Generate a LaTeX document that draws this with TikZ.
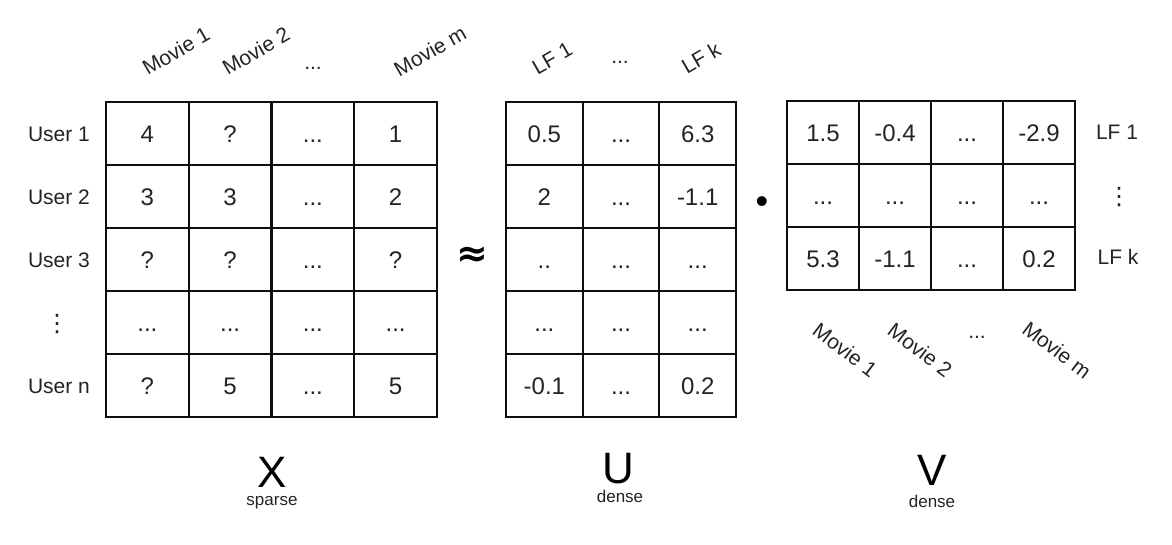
\documentclass[tikz,border=0pt]{standalone}
\usepackage{fontspec}
\setmainfont{Liberation Sans}
\newfontfamily\dvfont{DejaVu Sans}
\usetikzlibrary{positioning}
\definecolor{gridblk}{RGB}{15,15,15}
\definecolor{txtblk}{RGB}{35,35,35}
\newcommand{\dd}{...}
\newcommand{\twod}{..}

\begin{document}
\begin{tikzpicture}[x=1pt,y=-1pt,
  cell/.style={draw=gridblk, line width=2.2pt, inner sep=0pt, outer sep=0pt,
    text=txtblk, font=\fontsize{24}{24}\selectfont, text height=17.2pt, text depth=0pt},
  lbl/.style={text=txtblk, inner sep=0pt, font=\fontsize{21}{21}\selectfont,
    text height=15pt, text depth=0pt},
  vdot/.style={text=txtblk, inner sep=0pt, font=\dvfont\fontsize{24}{24}\selectfont},
  big/.style={text=black, inner sep=0pt, anchor=base, font=\fontsize{44}{44}\selectfont},
  sub/.style={text=txtblk, inner sep=0pt, anchor=base, font=\fontsize{17}{17}\selectfont}]
\useasboundingbox (0,0) rectangle (1172,544);
% -- X: users x movies --
\foreach \r/\row in {1/{4,?,\dd,1}, 2/{3,3,\dd,2}, 3/{?,?,\dd,?},
  4/{\dd,\dd,\dd,\dd}, 5/{?,5,\dd,5}} {
  \foreach \v [count=\c] in \row {
    \node[cell, minimum width=82.75, minimum height=63] (x\r\c)
      at ({106+82.75*(\c-0.5)},{102+63*(\r-0.5)}) {\v};
  }
}
% Row labels
\foreach \r/\nm in {1/User 1, 2/User 2, 3/User 3, 5/User n} {
  \node[lbl] (user\r) at (59,{102+63*(\r-0.5)}) {\nm};
}
\node[vdot] (user4) at (57,324) {⋮};
% Column labels
\foreach \n/\t/\px in {1/Movie 1/176, 2/Movie 2/256, m/Movie m/430} {
  \node[lbl, rotate=30] (xmovie\n) at (\px,51) {\t};
}
\node[lbl] (xmoviedots) at (313,62) {\dd};
% -- approx --
\node[inner sep=0pt, font=\dvfont\bfseries\fontsize{38}{38}\selectfont] (approx) at (472,257) {≈};
% -- U: users x latent factors --
\foreach \r/\row in {1/{0.5,\dd,6.3}, 2/{2,\dd,-1.1}, 3/{\twod,\dd,\dd},
  4/{\dd,\dd,\dd}, 5/{-0.1,\dd,0.2}} {
  \foreach \v [count=\c] in \row {
    \node[cell, minimum width=76.67, minimum height=63] (u\r\c)
      at ({506+76.67*(\c-0.5)},{102+63*(\r-0.5)}) {\v};
  }
}
\foreach \n/\t/\px in {1/LF 1/552, k/LF k/701} {
  \node[lbl, rotate=30] (ulf\n) at (\px,58) {\t};
}
\node[lbl] (ulfdots) at (620,56) {\dd};
% -- dot product --
\node[inner sep=0pt, font=\fontsize{36}{36}\selectfont] (prod) at (762,205) {•};
% -- V: latent factors x movies --
\foreach \r/\row in {1/{1.5,-0.4,\dd,-2.9}, 2/{\dd,\dd,\dd,\dd}, 3/{5.3,-1.1,\dd,0.2}} {
  \foreach \v [count=\c] in \row {
    \node[cell, minimum width=72, minimum height=63] (v\r\c)
      at ({787+72*(\c-0.5)},{101+63*(\r-0.5)}) {\v};
  }
}
\node[lbl] (vlf1) at (1117,132) {LF 1};
\node[vdot] (vlfdots) at (1119,197) {⋮};
\node[lbl] (vlfk) at (1118,257) {LF k};
\foreach \n/\t/\px in {1/Movie 1/845, 2/Movie 2/920, m/Movie m/1057} {
  \node[lbl, rotate=-37] (vmovie\n) at (\px,350) {\t};
}
\node[lbl] (vmoviedots) at (977,331) {\dd};
% -- Names --
\node[big] (xname) at (272,487) {X};
\node[sub] (xsub) at (272,505) {sparse};
\node[big] (uname) at (618,483) {U};
\node[sub] (usub) at (620,502) {dense};
\node[big] (vname) at (932,485) {V};
\node[sub] (vsub) at (932,507) {dense};
\end{tikzpicture}
\end{document}
